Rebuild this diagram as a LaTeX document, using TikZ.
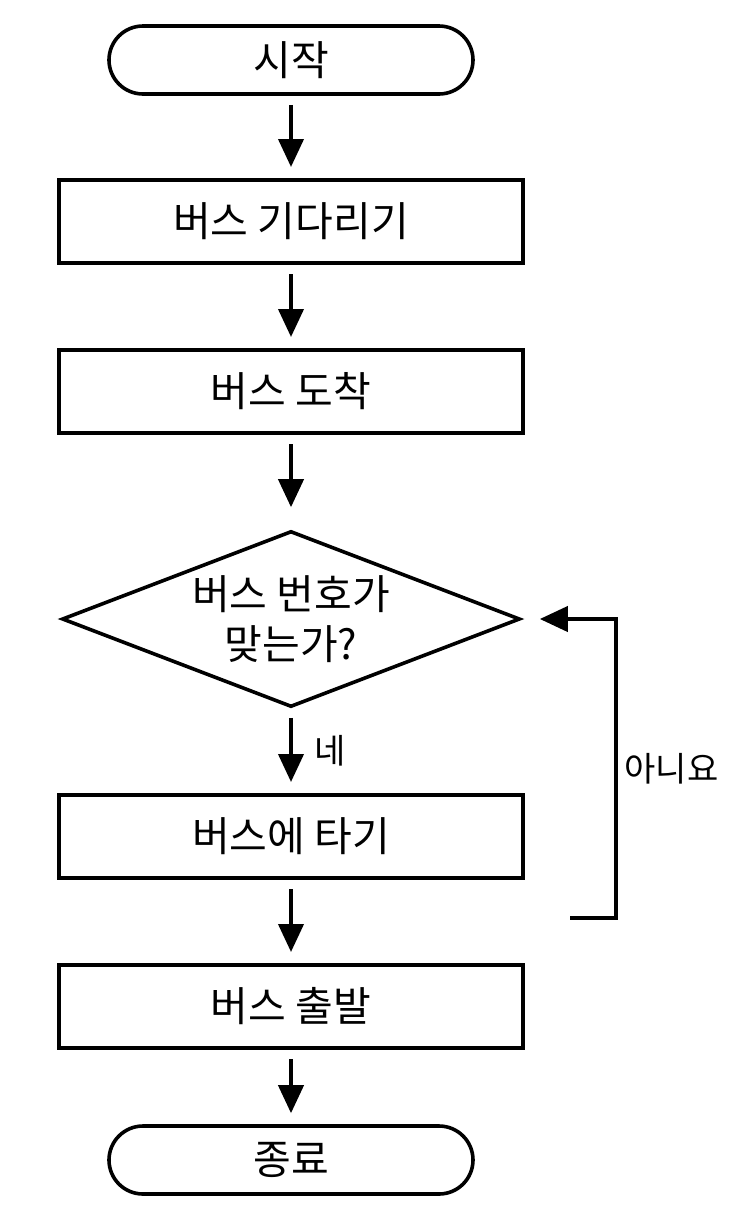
\documentclass[tikz,border=0pt]{standalone}
\usepackage{fontspec}
\usepackage{tikz}
\usetikzlibrary{shapes.geometric,arrows.meta}
\newfontfamily\kr{Noto Sans CJK KR}

\begin{document}
\begin{tikzpicture}[x=0.5pt,y=-0.5pt,
    every node/.style={font=\kr\fontsize{20.5}{25}\selectfont},
    term/.style={draw,line width=1.8pt,rounded corners=17pt,minimum width=182pt,minimum height=34pt},
    proc/.style={draw,line width=1.8pt,minimum width=232pt,minimum height=41.7pt},
    cond/.style={draw,line width=1.8pt,diamond,aspect=2.6,inner sep=0pt,minimum width=229pt,minimum height=88pt,align=center},
    lbl/.style={font=\kr\fontsize{17}{20}\selectfont},
    arr/.style={line width=2pt,-{Triangle[width=12.5pt,length=14pt]},shorten <=4.5pt,shorten >=5.5pt}]
    \useasboundingbox (0,0) rectangle (736,1222);

    % Steps of the flow
    \node[term] (start) at (291,60) {시작};
    \node[proc] (wait) at (291,221.5) {버스 기다리기};
    \node[proc] (arrive) at (291,391.5) {버스 도착};
    \node[cond] (check) at (291,619) {버스 번호가\\맞는가?};
    \node[proc] (board) at (291,836.5) {버스에 타기};
    \node[proc] (depart) at (291,1006.5) {버스 출발};
    \node[term] (finish) at (291,1160) {종료};

    % Arrows down
    \draw[arr] (start) -- (wait);
    \draw[arr] (wait) -- (arrive);
    \draw[arr,shorten >=11pt] (arrive) -- (check);
    \draw[arr] (check) -- node[lbl,right=7.3pt] {네} (board);
    \draw[arr] (board) -- (depart);
    \draw[arr] (depart) -- (finish);

    % Loop back for the wrong bus
    \coordinate (back) at (570,918);
    \draw[arr,shorten <=0pt,shorten >=9pt] (back) -- ++(46,0) |- node[lbl,pos=0.25,right] {아니요} (check);
\end{tikzpicture}
\end{document}
